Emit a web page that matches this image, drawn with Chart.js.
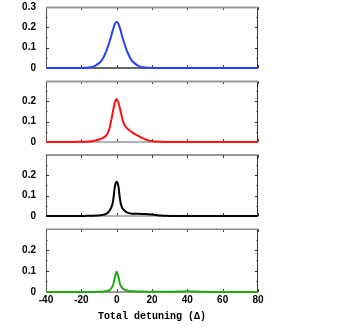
<!DOCTYPE html>
<html>
<head>
<meta charset="utf-8">
<script src="https://cdn.jsdelivr.net/npm/chart.js@4.4.1/dist/chart.umd.min.js"></script>
<style>
    body { margin: 0; background: #fff; }
    #wrap { position: relative; width: 354px; height: 327px; overflow: hidden; }
    .panel { position: absolute; left: 0; width: 354px; }
</style>
</head>
<body>
<div id="wrap">
    <div class="panel" style="top:-1px;height:77px;"><canvas id="c1"></canvas></div>
    <div class="panel" style="top:73px;height:77px;"><canvas id="c2"></canvas></div>
    <div class="panel" style="top:147px;height:77px;"><canvas id="c3"></canvas></div>
    <div class="panel" style="top:221px;height:106px;"><canvas id="c4"></canvas></div>
</div>
<script>
// Detuning values (x) shared by all four spectra
var detuning = [-40, -30, -25, -20, -18, -16, -14, -12, -10, -9, -8, -7, -6, -5, -4, -3, -2, -1, 0,
    1, 2, 3, 4, 5, 6, 7, 8, 9, 10, 12, 14, 16, 18, 20, 22, 25, 30, 35, 40, 45, 50, 60, 70, 80];

var blueSeries = [0, 0, 0, 0.0005, 0.001, 0.002, 0.005, 0.012, 0.024, 0.032, 0.044, 0.06, 0.08, 0.104, 0.13, 0.16, 0.192, 0.217, 0.227,
    0.217, 0.192, 0.16, 0.13, 0.104, 0.08, 0.06, 0.044, 0.032, 0.024, 0.012, 0.005, 0.002, 0.001, 0.0005, 0, 0, 0, 0, 0, 0, 0, 0, 0, 0];

var redSeries = [0, 0, 0.0005, 0.001, 0.0015, 0.002, 0.004, 0.007, 0.012, 0.015, 0.019, 0.024, 0.032, 0.045, 0.07, 0.11, 0.155, 0.195, 0.211,
    0.192, 0.16, 0.12, 0.092, 0.076, 0.066, 0.059, 0.052, 0.046, 0.04, 0.031, 0.022, 0.014, 0.008, 0.004, 0.002, 0.001, 0, 0, 0, 0, 0, 0, 0, 0];

var blackSeries = [0, 0, 0, 0, 0.0005, 0.001, 0.001, 0.002, 0.003, 0.004, 0.005, 0.007, 0.01, 0.016, 0.027, 0.042, 0.075, 0.145, 0.168,
    0.145, 0.075, 0.042, 0.03, 0.022, 0.017, 0.014, 0.012, 0.011, 0.011, 0.011, 0.010, 0.010, 0.009, 0.007, 0.005, 0.002, 0.0005, 0, 0, 0, 0, 0, 0, 0];

var greenSeries = [0, 0, 0, 0, 0, 0, 0, 0.0005, 0.001, 0.0015, 0.002, 0.003, 0.004, 0.006, 0.009, 0.018, 0.033, 0.072, 0.097,
    0.072, 0.035, 0.021, 0.013, 0.009, 0.007, 0.005, 0.004, 0.0035, 0.003, 0.0025, 0.002, 0.0015, 0.0015, 0.001, 0.001, 0.001, 0.0015, 0.002, 0.003, 0.002, 0.001, 0, 0, 0];

var xTicks = [-40, -20, 0, 20, 40, 60, 80];
var yTicks = [0, 0.1, 0.2, 0.3];
var xTitle = 'Total detuning (\u0394)';

var tickFont = { family: 'Liberation Sans', size: 10, weight: 'bold' };

// Frame with inward ticks on all four sides
var framePlugin = {
    id: 'frame',
    beforeDatasetsDraw: function (chart, args, opts) {
        var ctx = chart.ctx;
        var a = chart.chartArea;
        var xs = chart.scales.x;
        var ys = chart.scales.y;
        ctx.save();

        // inward ticks along top and bottom
        ctx.strokeStyle = '#444';
        ctx.lineWidth = 1;
        xTicks.forEach(function (v) {
            var px = Math.round(xs.getPixelForValue(v)) + 0.5;
            ctx.beginPath();
            ctx.moveTo(px, a.bottom); ctx.lineTo(px, a.bottom - 3);
            ctx.moveTo(px, a.top); ctx.lineTo(px, a.top + 3);
            ctx.stroke();
        });
        // inward ticks along left and right (minor every 0.05)
        for (var v = 0.05; v < 0.3; v += 0.05) {
            var py = Math.round(ys.getPixelForValue(v)) + 0.5;
            var len = (Math.round(v * 100) % 10 === 0) ? 3 : 2;
            ctx.strokeStyle = len === 3 ? '#222' : '#999';
            ctx.beginPath();
            ctx.moveTo(a.left, py); ctx.lineTo(a.left + len, py);
            ctx.moveTo(a.right, py); ctx.lineTo(a.right - len, py);
            ctx.stroke();
        }

        // left and right edges
        ctx.strokeStyle = '#555';
        ctx.beginPath();
        ctx.moveTo(a.left + 0.5, a.top); ctx.lineTo(a.left + 0.5, a.bottom);
        ctx.stroke();
        ctx.strokeStyle = '#333';
        ctx.beginPath();
        ctx.moveTo(a.right - 0.5, a.top); ctx.lineTo(a.right - 0.5, a.bottom);
        ctx.stroke();

        // top edge
        ctx.strokeStyle = opts.topColor;
        ctx.lineWidth = opts.topWidth;
        ctx.beginPath();
        ctx.moveTo(a.left, a.top + opts.topWidth / 2 - 0.5); ctx.lineTo(a.right, a.top + opts.topWidth / 2 - 0.5);
        ctx.stroke();

        // baseline at zero
        ctx.strokeStyle = opts.baseColor;
        ctx.lineWidth = 1.5;
        ctx.beginPath();
        ctx.moveTo(a.left, a.bottom); ctx.lineTo(a.right, a.bottom);
        ctx.stroke();
        ctx.restore();
    }
};

// Function to build one panel
function makePanel(canvasId, series, color, showTop, showXAxis, topColor, topWidth, baseColor) {
    var points = detuning.map(function (d, i) { return { x: d, y: series[i] }; });
    var ctx = document.getElementById(canvasId).getContext('2d');
    return new Chart(ctx, {
        type: 'line',
        data: {
            datasets: [{
                data: points,
                borderColor: color,
                borderWidth: 2,
                pointRadius: 0,
                fill: false,
                cubicInterpolationMode: 'monotone',
                clip: 4
            }]
        },
        options: {
            responsive: true,
            maintainAspectRatio: false,
            animation: false,
            events: [],
            layout: { padding: { left: 0, right: 96, top: 6, bottom: showXAxis ? 5 : 6 } },
            plugins: {
                legend: { display: false },
                tooltip: { enabled: false },
                frame: { topColor: topColor, topWidth: topWidth, baseColor: baseColor }
            },
            scales: {
                x: {
                    type: 'linear',
                    min: -40,
                    max: 80,
                    display: showXAxis,
                    grid: { display: false, drawTicks: false },
                    border: { display: false },
                    afterBuildTicks: function (scale) {
                        scale.ticks = xTicks.map(function (v) { return { value: v }; });
                    },
                    afterFit: function (scale) { scale.height = showXAxis ? 30 : 0; },
                    ticks: { color: '#000', font: tickFont, padding: 2, maxRotation: 0, autoSkip: false },
                    title: {
                        display: true,
                        text: xTitle,
                        color: '#000',
                        font: { family: 'Liberation Mono', size: 10, weight: 'bold' },
                        padding: { top: 0, bottom: 0 }
                    }
                },
                y: {
                    min: 0,
                    max: 0.3,
                    grid: { display: false },
                    border: { display: false },
                    afterBuildTicks: function (scale) {
                        scale.ticks = yTicks.map(function (v) { return { value: v }; });
                    },
                    afterFit: function (scale) { scale.width = 46; },
                    ticks: {
                        color: '#000',
                        font: tickFont,
                        padding: 2,
                        autoSkip: false,
                        callback: function (value) {
                            if (value === 0) return '0';
                            if (value > 0.25 && !showTop) return '';
                            return value.toFixed(1);
                        }
                    }
                }
            }
        },
        plugins: [framePlugin]
    });
}

var chart1 = makePanel('c1', blueSeries, '#2a40f5', true, false, '#999', 2, '#333');
var chart2 = makePanel('c2', redSeries, '#ff1010', false, false, '#999', 2, '#999');
var chart3 = makePanel('c3', blackSeries, '#000', false, false, '#333', 1, '#999');
var chart4 = makePanel('c4', greenSeries, '#22aa14', false, true, '#888', 1.5, '#777');
</script>
</body>
</html>
